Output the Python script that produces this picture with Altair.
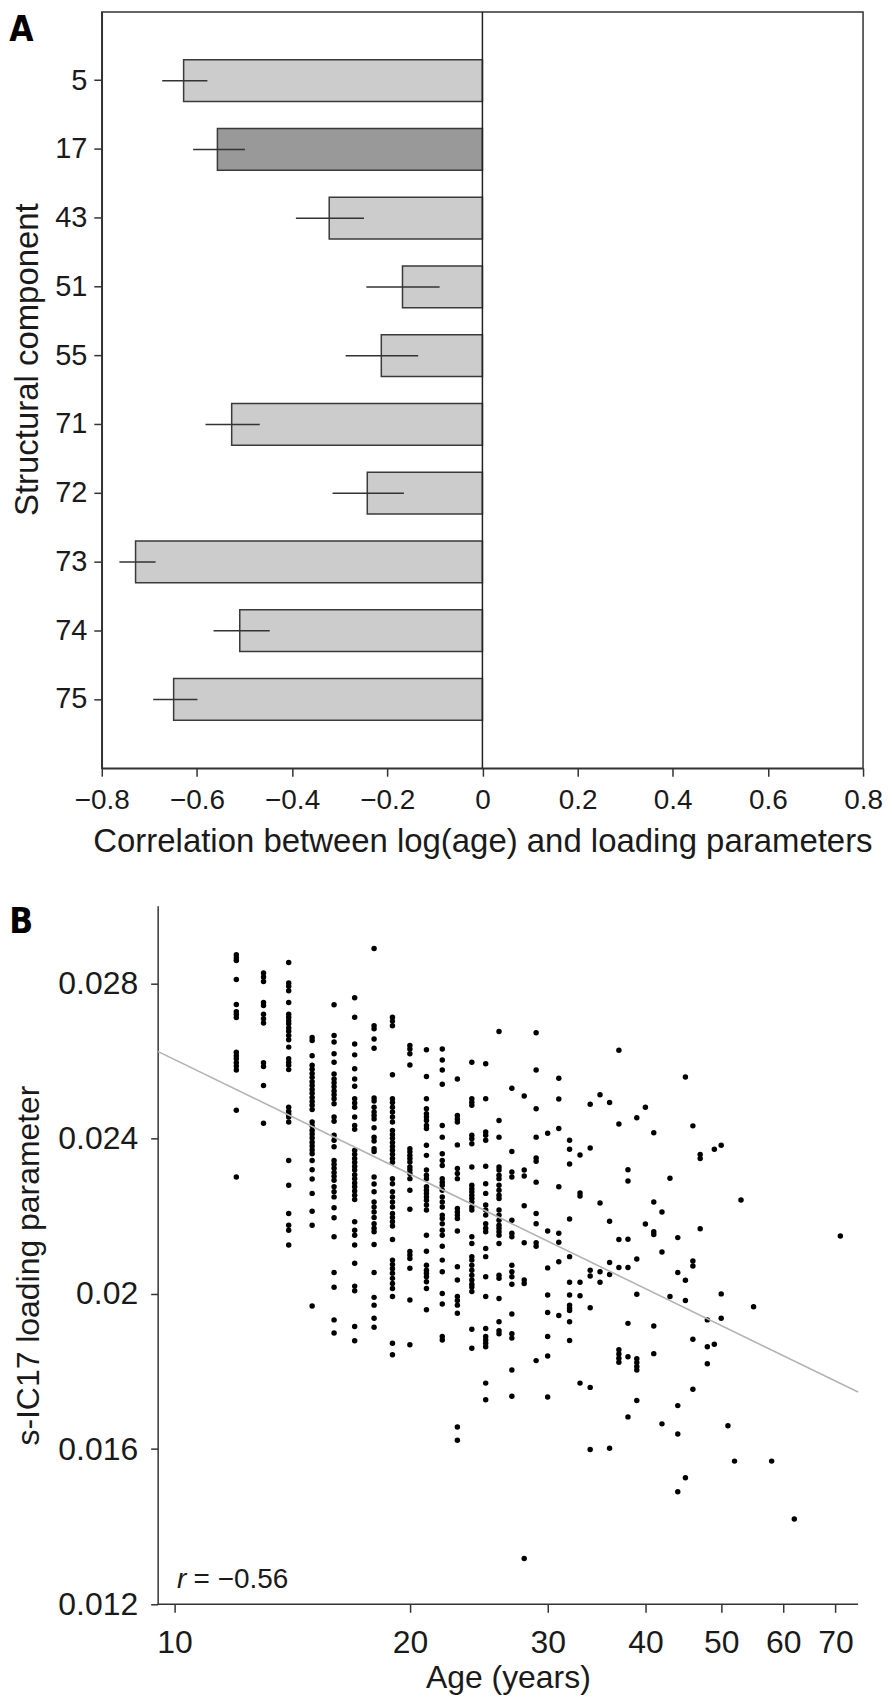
import altair as alt
import pandas as pd

# ---------------- Panel A data ----------------
components = ["5", "17", "43", "51", "55", "71", "72", "73", "74", "75"]
correlation = [-0.628, -0.557, -0.322, -0.168, -0.2125, -0.527, -0.242, -0.729, -0.510, -0.649]
ci_low = [-0.673, -0.608, -0.392, -0.244, -0.2875, -0.582, -0.315, -0.763, -0.565, -0.692]
ci_high = [-0.578, -0.499, -0.249, -0.090, -0.135, -0.468, -0.165, -0.687, -0.447, -0.599]
highlighted = "17"
x_ticks_a = [-0.8, -0.6, -0.4, -0.2, 0, 0.2, 0.4, 0.6, 0.8]

# ---------------- Panel B data ----------------
loading_by_age = {
    12: [0.02874, 0.02866, 0.02859, 0.02810, 0.02746, 0.02727, 0.02720, 0.02712, 0.02623, 0.02614, 0.02606, 0.02596, 0.02587, 0.02577, 0.02473, 0.02301],
    13: [0.02827, 0.02817, 0.02805, 0.02751, 0.02743, 0.02721, 0.02709, 0.02698, 0.02596, 0.02586, 0.02537, 0.02440],
    14: [0.02854, 0.02801, 0.02793, 0.02781, 0.02751, 0.02721, 0.02713, 0.02704, 0.02696, 0.02685, 0.02677, 0.02666, 0.02655, 0.02636, 0.02606, 0.02597, 0.02589, 0.02578, 0.02481, 0.02471, 0.02463, 0.02456, 0.02443, 0.02344, 0.02280, 0.02207, 0.02177, 0.02164, 0.02126],
    15: [0.02661, 0.02653, 0.02614, 0.02589, 0.02579, 0.02568, 0.02558, 0.02547, 0.02537, 0.02527, 0.02517, 0.02506, 0.02496, 0.02486, 0.02475, 0.02443, 0.02433, 0.02422, 0.02412, 0.02402, 0.02391, 0.02381, 0.02371, 0.02361, 0.02344, 0.02320, 0.02296, 0.02259, 0.02213, 0.02177, 0.01969],
    16: [0.02745, 0.02666, 0.02649, 0.02619, 0.02597, 0.02567, 0.02554, 0.02544, 0.02534, 0.02523, 0.02513, 0.02503, 0.02490, 0.02456, 0.02445, 0.02409, 0.02396, 0.02379, 0.02344, 0.02334, 0.02324, 0.02313, 0.02303, 0.02293, 0.02276, 0.02263, 0.02250, 0.02222, 0.02196, 0.02147, 0.02055, 0.02017, 0.01933, 0.01899],
    17: [0.02763, 0.02713, 0.02644, 0.02616, 0.02580, 0.02554, 0.02535, 0.02503, 0.02492, 0.02481, 0.02456, 0.02434, 0.02424, 0.02370, 0.02360, 0.02349, 0.02339, 0.02329, 0.02319, 0.02307, 0.02297, 0.02286, 0.02276, 0.02265, 0.02254, 0.02243, 0.02186, 0.02164, 0.02151, 0.02126, 0.02079, 0.02020, 0.02008, 0.01916, 0.01879],
    18: [0.02890, 0.02691, 0.02683, 0.02657, 0.02633, 0.02505, 0.02497, 0.02481, 0.02469, 0.02460, 0.02451, 0.02428, 0.02404, 0.02394, 0.02374, 0.02367, 0.02301, 0.02283, 0.02263, 0.02237, 0.02224, 0.02211, 0.02197, 0.02181, 0.02169, 0.02160, 0.02127, 0.02055, 0.01991, 0.01971, 0.01937, 0.01914],
    19: [0.02713, 0.02703, 0.02691, 0.02565, 0.02503, 0.02493, 0.02481, 0.02469, 0.02456, 0.02443, 0.02421, 0.02411, 0.02401, 0.02390, 0.02380, 0.02370, 0.02360, 0.02349, 0.02339, 0.02297, 0.02284, 0.02263, 0.02250, 0.02237, 0.02224, 0.02207, 0.02197, 0.02186, 0.02175, 0.02140, 0.02087, 0.02076, 0.02065, 0.02053, 0.02040, 0.02027, 0.02014, 0.01993, 0.01873, 0.01843],
    20: [0.02640, 0.02631, 0.02619, 0.02590, 0.02374, 0.02366, 0.02357, 0.02349, 0.02340, 0.02327, 0.02319, 0.02310, 0.02297, 0.02267, 0.02218, 0.02109, 0.02100, 0.02091, 0.02066, 0.01984, 0.01869],
    21: [0.02629, 0.02560, 0.02503, 0.02477, 0.02464, 0.02456, 0.02447, 0.02434, 0.02426, 0.02383, 0.02357, 0.02319, 0.02306, 0.02297, 0.02276, 0.02267, 0.02259, 0.02250, 0.02241, 0.02229, 0.02216, 0.02151, 0.02110, 0.02074, 0.02061, 0.02053, 0.02044, 0.02031, 0.02014, 0.01959],
    22: [0.02631, 0.02603, 0.02577, 0.02540, 0.02434, 0.02404, 0.02361, 0.02344, 0.02331, 0.02297, 0.02288, 0.02280, 0.02267, 0.02250, 0.02237, 0.02224, 0.02203, 0.02194, 0.02181, 0.02164, 0.02151, 0.02123, 0.02087, 0.02057, 0.02001, 0.01974, 0.01890, 0.01881],
    23: [0.02554, 0.02460, 0.02451, 0.02443, 0.02384, 0.02323, 0.02310, 0.02297, 0.02220, 0.02211, 0.02203, 0.02194, 0.02162, 0.02070, 0.02036, 0.01993, 0.01983, 0.01971, 0.01950, 0.01657, 0.01623],
    24: [0.02597, 0.02503, 0.02494, 0.02486, 0.02409, 0.02400, 0.02387, 0.02327, 0.02280, 0.02271, 0.02263, 0.02254, 0.02246, 0.02237, 0.02224, 0.02216, 0.02147, 0.02130, 0.02096, 0.02087, 0.02074, 0.02061, 0.02048, 0.02036, 0.02025, 0.02018, 0.02006, 0.01909, 0.01860],
    25: [0.02593, 0.02503, 0.02417, 0.02409, 0.02396, 0.02329, 0.02284, 0.02259, 0.02229, 0.02216, 0.02203, 0.02181, 0.02169, 0.02160, 0.02117, 0.02096, 0.02044, 0.01993, 0.01911, 0.01890, 0.01881, 0.01873, 0.01864, 0.01770, 0.01727],
    26: [0.02676, 0.02447, 0.02404, 0.02327, 0.02319, 0.02306, 0.02297, 0.02280, 0.02267, 0.02254, 0.02246, 0.02216, 0.02203, 0.02190, 0.02177, 0.02169, 0.02160, 0.02151, 0.02130, 0.02048, 0.02040, 0.01988, 0.01928, 0.01905, 0.01897],
    27: [0.02530, 0.02367, 0.02314, 0.02301, 0.02190, 0.02156, 0.02147, 0.02074, 0.02057, 0.02044, 0.02025, 0.01948, 0.01897, 0.01886, 0.01804, 0.01736],
    28: [0.02510, 0.02319, 0.02304, 0.02227, 0.02132, 0.02036, 0.02027, 0.01318],
    29: [0.02673, 0.02577, 0.02477, 0.02404, 0.02350, 0.02342, 0.02288, 0.02207, 0.02181, 0.02132, 0.02123, 0.01828],
    30: [0.02414, 0.02162, 0.02067, 0.01997, 0.01952, 0.01890, 0.01840, 0.01734],
    31: [0.02556, 0.02502, 0.02426, 0.02276, 0.02156, 0.02133, 0.02083, 0.01944],
    32: [0.02396, 0.02373, 0.02335, 0.02193, 0.02096, 0.02030, 0.01997, 0.01971, 0.01963, 0.01957, 0.01928, 0.01880],
    33: [0.02358, 0.02260, 0.02252, 0.02030, 0.01995, 0.01770],
    34: [0.02489, 0.02376, 0.02061, 0.02046, 0.01964, 0.01759, 0.01599],
    35: [0.02513, 0.02234, 0.02057, 0.02030],
    36: [0.02493, 0.02187, 0.02081, 0.02050, 0.01602],
    37: [0.02628, 0.02438, 0.02140, 0.02068, 0.01856, 0.01845, 0.01834, 0.01824],
    38: [0.02320, 0.02291, 0.02141, 0.02068, 0.01924, 0.01838, 0.01683],
    39: [0.02454, 0.02090, 0.01999, 0.01833, 0.01823, 0.01813, 0.01804, 0.01725],
    40: [0.02481, 0.02180],
    41: [0.02415, 0.02237, 0.02160, 0.02153, 0.01917, 0.01846],
    42: [0.02211, 0.02108, 0.01665],
    43: [0.02298, 0.01993],
    44: [0.02145, 0.02055, 0.01712, 0.01639, 0.01490],
    45: [0.02559, 0.02035, 0.01983, 0.01526],
    46: [0.02433, 0.02085, 0.02072, 0.01883, 0.01754],
    47: [0.02359, 0.02349, 0.02168],
    48: [0.01933, 0.01864, 0.01820],
    49: [0.02373, 0.01870],
    50: [0.02383, 0.02000, 0.01937],
    51: [0.01660],
    52: [0.01569],
    53: [0.02242],
    55: [0.01967],
    58: [0.01569],
    62: [0.01420],
    71: [0.02149],
}
fit_age = [9.52, 74.8]
fit_loading = [0.02625, 0.01747]
x_ticks_b = [10, 20, 30, 40, 50, 60, 70]
y_ticks_b = [0.012, 0.016, 0.02, 0.024, 0.028]
age_axis_range = [9.52, 74.8]     # extent of the drawn age axis line
r_symbol = "r"
r_value = "= \u22120.56"

FONT = "Liberation Sans"
LABEL_FONT = "Liberation Sans Narrow, DejaVu Sans Condensed, Liberation Sans"
INK = "#1a1a1a"
LINE = "#333333"

# ---------------- Panel A ----------------
df_a = pd.DataFrame({"component": components, "correlation": correlation,
                     "lo": ci_low, "hi": ci_high})

y_a = alt.Y("component:N", sort=components,
            scale=alt.Scale(paddingInner=0.393, paddingOuter=0.696),
            axis=alt.Axis(title="Structural component", titleX=-64, titleY=348,
                          titleAngle=270, titleAlign="center", titleBaseline="alphabetic",
                          titleFontSize=33, labelFontSize=29, labelPadding=7, tickSize=8))
x_a = alt.X("correlation:Q", scale=alt.Scale(domain=[-0.8, 0.8], nice=False),
            axis=alt.Axis(values=x_ticks_a, format="~f",
                          title="Correlation between log(age) and loading parameters",
                          titleY=84, titleBaseline="alphabetic", titleFontSize=33,
                          labelFontSize=28, labelPadding=10, tickSize=8,
                          labelFlush=False, labelOverlap=False))

bars = alt.Chart(df_a).mark_bar(stroke="#3a3a3a", strokeWidth=1.5).encode(
    x=x_a, y=y_a,
    color=alt.condition(alt.datum.component == highlighted,
                        alt.value("#999999"), alt.value("#cccccc")))
errs = alt.Chart(df_a).mark_rule(color=LINE, strokeWidth=1.5).encode(
    x="lo:Q", x2="hi:Q", y=alt.Y("component:N", sort=components))
zero = alt.Chart(pd.DataFrame({"zero": [0]})).mark_rule(color="#222222", strokeWidth=1.5).encode(
    x="zero:Q")
label_a = alt.Chart(pd.DataFrame({"t": ["A"]})).mark_text(
    align="left", baseline="alphabetic", font=LABEL_FONT, fontSize=35,
    fontWeight="bold", color="#000000").encode(
    x=alt.value(-92.7), y=alt.value(29.5), text="t:N")

panel_a = alt.layer(bars, errs, zero, label_a).properties(
    width=763, height=758,
    view=alt.ViewBackground(stroke=LINE, strokeWidth=1.5))

# ---------------- Panel B ----------------
# Panel B's plot area starts 56 px right of panel A's; the shared left edge of the
# concatenation is kept and the age scale simply starts a little before 9.52.
df_b = pd.DataFrame([{"age": a, "loading": v}
                     for a, vals in loading_by_age.items() for v in vals])
df_fit = pd.DataFrame({"age": fit_age, "loading": fit_loading})
df_axis = pd.DataFrame({"a0": [age_axis_range[0]], "a1": [age_axis_range[1]],
                        "base": [y_ticks_b[0]]})

x_b = alt.X("age:Q", scale=alt.Scale(type="log", domain=[8.076, 74.8], nice=False),
            axis=alt.Axis(values=x_ticks_b, format="d", title="Age (years)",
                          titleX=407, titleAlign="center",
                          titleY=83, titleBaseline="alphabetic", titleFontSize=32,
                          labelFontSize=32, labelPadding=15, tickSize=8, domain=False,
                          labelFlush=False, labelOverlap=False))
y_b = alt.Y("loading:Q", scale=alt.Scale(domain=[0.012, 0.030], nice=False, zero=False),
            axis=alt.Axis(values=y_ticks_b, format="~f", title="s-IC17 loading parameter",
                          offset=-56,
                          titleX=-119.5, titleY=360, titleAngle=270, titleAlign="center",
                          titleBaseline="alphabetic", titleFontSize=32,
                          labelFontSize=32, labelPadding=13, tickSize=7))

pts = alt.Chart(df_b).mark_circle(size=30, color="#000000", opacity=1).encode(x=x_b, y=y_b)
axis_line = alt.Chart(df_axis).mark_rule(color=LINE, strokeWidth=1.5).encode(
    x="a0:Q", x2="a1:Q", y="base:Q")
fit = alt.Chart(df_fit).mark_line(color="#b3b3b3", strokeWidth=1.6).encode(
    x="age:Q", y="loading:Q")
r_txt = alt.Chart(pd.DataFrame({"t": [r_symbol]})).mark_text(
    align="left", baseline="alphabetic", font=FONT, fontSize=28, fontStyle="italic",
    color=INK).encode(x=alt.value(75.3), y=alt.value(683.4), text="t:N")
r_val = alt.Chart(pd.DataFrame({"t": [r_value]})).mark_text(
    align="left", baseline="alphabetic", font=FONT, fontSize=28,
    color=INK).encode(x=alt.value(92), y=alt.value(683.4), text="t:N")
label_b = alt.Chart(pd.DataFrame({"t": ["B"]})).mark_text(
    align="left", baseline="alphabetic", font=LABEL_FONT, fontSize=35,
    fontWeight="bold", color="#000000").encode(
    x=alt.value(-92.7), y=alt.value(26.7), text="t:N")

panel_b = alt.layer(pts, axis_line, fit, r_txt, r_val, label_b).properties(
    width=758, height=700)

chart = alt.vconcat(panel_a, panel_b, spacing=44).properties(
    padding={"left": 0, "top": 0, "right": 0, "bottom": 0}
).configure(font=FONT).configure_view(strokeWidth=0).configure_axis(
    grid=False, labelFont=FONT, titleFont=FONT, labelColor=INK, titleColor=INK,
    titleFontWeight="normal", domainColor=LINE, domainWidth=1.5,
    tickColor=LINE, tickWidth=1.5)

chart.save("out.html", embed_options={"renderer": "svg", "actions": False})
